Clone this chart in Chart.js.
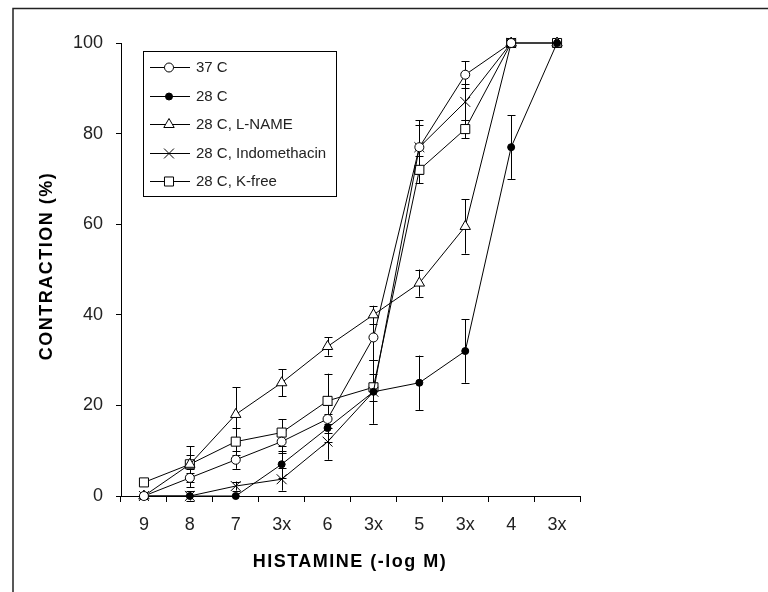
<!DOCTYPE html>
<html>
<head>
<meta charset="utf-8">
<script src="https://cdn.jsdelivr.net/npm/chart.js@4/dist/chart.umd.min.js"></script>
<style>
html,body{margin:0;padding:0;background:#fff;}
#wrap{width:768px;height:592px;position:relative;}
</style>
</head>
<body>
<div id="wrap"><canvas id="c" width="768" height="592"></canvas></div>
<script>
const categories = ['9','8','7','3x','6','3x','5','3x','4','3x'];
const yTicks = [0,20,40,60,80,100];
const seriesLabels = ['37 C','28 C','28 C, L-NAME','28 C, Indomethacin','28 C, K-free'];
const c37     = [0, 4, 8, 12, 17, 35, 77, 93, 100, null];
const c37Err  = [0, 2, 2, 2.5, 3, 5, 6, 3, 0, null];
const c28     = [0, 0, 0, 7, 15, 23, 25, 32, 77, 100];
const c28Err  = [0, 0, 0, 3, 3, 7, 6, 7, 7, 0];
const lname   = [0, 7, 18, 25, 33, 40, 47, 59.5, 100, 100];
const lnameErr= [0, 2, 6, 3, 2, 2, 3, 6, 0, 0];
const indo    = [0, 0, 2.2, 3.7, 12, 23, 77, 87, 100, null];
const indoErr = [0, 1, 1, 2.5, 4, 7, 5, 4, 0, null];
const kfree   = [3, 7, 12, 14, 21, 24, 72, 81, 100, 100];
const kfreeErr= [0, 4, 3, 3, 6, 3, 3, 2, 0, 0];

const FONT = "'Liberation Sans', Arial, sans-serif";
const styles = [
  {pointStyle:'circle', radius:4.5, bg:'#fff'},
  {pointStyle:'circle', radius:3.5, bg:'#000'},
  {pointStyle:'triangle', radius:6, bg:'#fff'},
  {pointStyle:'crossRot', radius:7, bg:'#fff'},
  {pointStyle:'rect', radius:6.4, bg:'#fff'}
];
const values = [c37, c28, lname, indo, kfree];
const errors = [c37Err, c28Err, lnameErr, indoErr, kfreeErr];

const datasets = values.map((v,i)=>({
  label: seriesLabels[i],
  data: v,
  errors: errors[i],
  borderColor:'#000',
  borderWidth:1,
  pointStyle: styles[i].pointStyle,
  pointRadius: styles[i].radius,
  pointHoverRadius: styles[i].radius,
  pointBackgroundColor: styles[i].bg,
  pointBorderColor:'#000',
  pointBorderWidth:1,
  tension:0,
  fill:false,
  clip:false,
  spanGaps:false
}));

const framePlugin = {
  id:'frame',
  beforeDraw(chart){
    const ctx = chart.ctx;
    ctx.save();
    ctx.fillStyle='#fff';
    ctx.fillRect(0,0,chart.width,chart.height);
    ctx.strokeStyle='#222';
    ctx.lineWidth=1.5;
    ctx.beginPath();
    ctx.moveTo(13, 592); ctx.lineTo(13, 8.5); ctx.lineTo(768, 8.5);
    ctx.stroke();
    ctx.restore();
  }
};

const errorPlugin = {
  id:'errorbars',
  beforeDatasetsDraw(chart){
    const ctx = chart.ctx;
    const y = chart.scales.y;
    ctx.save();
    ctx.strokeStyle='#000';
    ctx.lineWidth=1;
    chart.data.datasets.forEach((ds,di)=>{
      const meta = chart.getDatasetMeta(di);
      meta.data.forEach((pt,i)=>{
        const v = ds.data[i], e = ds.errors[i];
        if (v===null || !e) return;
        const x = Math.round(pt.x)+0.5;
        const yt = y.getPixelForValue(v+e), yb = y.getPixelForValue(v-e);
        ctx.beginPath();
        ctx.moveTo(x, yt); ctx.lineTo(x, yb);
        ctx.moveTo(x-4, Math.round(yt)+0.5); ctx.lineTo(x+4, Math.round(yt)+0.5);
        ctx.moveTo(x-4, Math.round(yb)+0.5); ctx.lineTo(x+4, Math.round(yb)+0.5);
        ctx.stroke();
      });
    });
    ctx.restore();
  }
};

const decorPlugin = {
  id:'decor',
  afterDraw(chart){
    const ctx = chart.ctx;
    ctx.save();
    // axis titles
    ctx.fillStyle='#000';
    ctx.font = "bold 18px " + FONT;
    if ('letterSpacing' in ctx) ctx.letterSpacing = '1.5px';
    ctx.textAlign='center';
    ctx.textBaseline='middle';
    ctx.fillText('HISTAMINE (-log M)', 350, 562);
    ctx.save();
    ctx.translate(47, 266);
    ctx.rotate(-Math.PI/2);
    ctx.fillText('CONTRACTION (%)', 0, 0);
    ctx.restore();
    if ('letterSpacing' in ctx) ctx.letterSpacing = '0px';
    // legend
    ctx.strokeStyle='#000';
    ctx.lineWidth=1;
    ctx.strokeRect(143.5, 51.5, 193, 145);
    const ys = [67, 96, 124, 153, 181];
    ctx.font = "15px " + FONT;
    ctx.textAlign='left';
    chart.data.datasets.forEach((ds,i)=>{
      const yy = ys[i]+0.5;
      ctx.beginPath();
      ctx.moveTo(150, yy); ctx.lineTo(190, yy);
      ctx.stroke();
      ctx.fillStyle = ds.pointBackgroundColor;
      ctx.strokeStyle = '#000';
      Chart.helpers.drawPoint(ctx, {pointStyle: ds.pointStyle, radius: ds.pointRadius, rotation:0, borderWidth:1}, 169, yy);
      ctx.fillStyle = '#222';
      ctx.fillText(ds.label, 196, ys[i]+1);
    });
    ctx.restore();
  }
};

new Chart(document.getElementById('c'), {
  type:'line',
  data:{ labels: categories, datasets },
  plugins:[framePlugin, errorPlugin, decorPlugin],
  options:{
    responsive:false,
    animation:false,
    devicePixelRatio:1,
    layout:{ padding:{ top:43, right:188, left:0, bottom:0 } },
    plugins:{ legend:{display:false}, tooltip:{enabled:false} },
    scales:{
      x:{
        type:'category',
        offset:true,
        grid:{ offset:true, drawOnChartArea:false, drawTicks:true, tickLength:6, color:'#000', lineWidth:1 },
        border:{ display:true, color:'#000', width:1 },
        ticks:{ color:'#222', font:{ family:FONT, size:18 }, padding:12, maxRotation:0, autoSkip:false },
        afterFit(s){ s.height = 96; }
      },
      y:{
        min:0, max:100,
        afterBuildTicks(s){ s.ticks = yTicks.map(v=>({value:v})); },
        grid:{ drawOnChartArea:false, drawTicks:true, tickLength:5, color:'#000', lineWidth:1 },
        border:{ display:true, color:'#000', width:1 },
        ticks:{ color:'#222', font:{ family:FONT, size:18 }, padding:13 },
        afterFit(s){ s.width = 121; }
      }
    }
  }
});
</script>
</body>
</html>
